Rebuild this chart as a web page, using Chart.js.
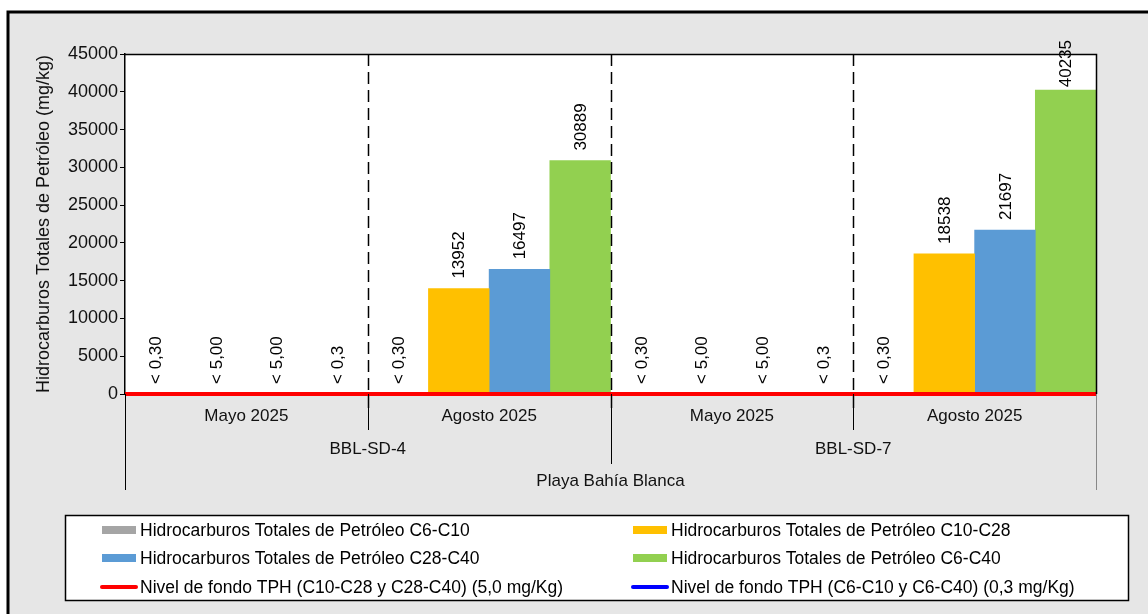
<!DOCTYPE html>
<html>
<head>
<meta charset="utf-8">
<script src="https://cdn.jsdelivr.net/npm/chart.js@4.4.1/dist/chart.umd.min.js"></script>
<style>
  html, body { margin: 0; padding: 0; background: #fff; }
  canvas { display: block; }
</style>
</head>
<body>
<canvas id="grafico" width="1148" height="614"></canvas>
<script>
// datos
const meses = ['Mayo 2025', 'Agosto 2025', 'Mayo 2025', 'Agosto 2025'];
const estaciones = ['BBL-SD-4', 'BBL-SD-7'];
const sitio = 'Playa Bahía Blanca';

const tphC6C10 = [0.3, 0.3, 0.3, 0.3];
const tphC10C28 = [5, 13952, 5, 18538];
const tphC28C40 = [5, 16497, 5, 21697];
const tphC6C40 = [0.3, 30889, 0.3, 40235];

const etqC6C10 = ['< 0,30', '< 0,30', '< 0,30', '< 0,30'];
const etqC10C28 = ['< 5,00', '13952', '< 5,00', '18538'];
const etqC28C40 = ['< 5,00', '16497', '< 5,00', '21697'];
const etqC6C40 = ['< 0,3', '30889', '< 0,3', '40235'];

const fondoC10C40 = 5.0;
const fondoC6 = 0.3;

const yMax = 45000;
const yPaso = 5000;

const FUENTE = '"Liberation Sans", Arial, sans-serif';
Chart.defaults.font.family = FUENTE;
Chart.defaults.color = '#000';

// un solo eje x lineal: categoria j en x = j (asi las barras no se parten entre ejes)
const enX = arr => arr.map((v, j) => ({ x: j, y: v }));
// linea horizontal que cubre todo el ancho de las categorias
const lineaFondo = v => [{ x: -0.5, y: v }, { x: meses.length - 0.5, y: v }];

const etiquetas = [etqC6C10, etqC10C28, etqC28C40, etqC6C40];

const decoPlugin = {
  id: 'deco',
  beforeDraw(chart) {
    const { ctx, chartArea: a } = chart;
    ctx.save();
    ctx.fillStyle = '#fff';
    ctx.fillRect(0, 0, chart.width, chart.height);
    ctx.fillStyle = '#e6e6e6';
    ctx.fillRect(8, 12, chart.width, chart.height);
    ctx.strokeStyle = '#000';
    ctx.lineWidth = 3;
    ctx.strokeRect(8, 12, chart.width + 20, chart.height + 20);
    ctx.fillStyle = '#fff';
    ctx.fillRect(a.left, a.top, a.right - a.left, a.bottom - a.top);
    ctx.restore();
  },
  afterDatasetsDraw(chart) {
    const { ctx, chartArea: a } = chart;
    const x = chart.scales.x;
    const n = meses.length;
    const borde = j => x.getPixelForValue(j + 0.5);

    ctx.save();
    // separadores punteados
    ctx.strokeStyle = '#000';
    ctx.lineWidth = 1.5;
    ctx.setLineDash([12, 6]);
    for (let j = 0; j < n - 1; j++) {
      const px = Math.round(borde(j)) + 0.5;
      ctx.beginPath();
      ctx.moveTo(px, a.top);
      ctx.lineTo(px, a.bottom + 20);
      ctx.stroke();
    }
    ctx.setLineDash([]);

    // marco superior y derecho
    ctx.beginPath();
    ctx.moveTo(a.left, a.top + 0.5);
    ctx.lineTo(a.right + 0.5, a.top + 0.5);
    ctx.lineTo(a.right + 0.5, a.bottom);
    ctx.stroke();

    // etiquetas de las barras (sin salirse mucho por arriba)
    ctx.font = '17px ' + FUENTE;
    ctx.fillStyle = '#000';
    ctx.textAlign = 'left';
    ctx.textBaseline = 'middle';
    for (let i = 0; i < etiquetas.length; i++) {
      const meta = chart.getDatasetMeta(i);
      meta.data.forEach((el, j) => {
        const txt = etiquetas[i][j];
        const w = ctx.measureText(txt).width;
        const y0 = Math.max(el.y - 10, a.top - 14 + w);
        ctx.save();
        ctx.translate(el.x + 1, y0);
        ctx.rotate(-Math.PI / 2);
        ctx.fillText(txt, 0, 0);
        ctx.restore();
      });
    }

    // eje x multinivel
    ctx.lineWidth = 1;
    const trazo = (px, y2, color) => {
      ctx.strokeStyle = color;
      ctx.beginPath();
      ctx.moveTo(Math.round(px) + 0.5, a.bottom);
      ctx.lineTo(Math.round(px) + 0.5, y2);
      ctx.stroke();
    };
    trazo(a.left, a.bottom + 96, '#000');
    trazo(a.right, a.bottom + 96, '#888');
    for (let j = 0; j < n - 1; j++) {
      trazo(borde(j), (j + 1) % 2 === 0 ? a.bottom + 70 : a.bottom + 36, '#000');
    }
    ctx.textAlign = 'center';
    ctx.fillStyle = '#111';
    meses.forEach((m, j) => ctx.fillText(m, x.getPixelForValue(j), a.bottom + 22));
    const porEst = n / estaciones.length;
    estaciones.forEach((e, k) => {
      const x0 = x.getPixelForValue(k * porEst - 0.5);
      const x1 = x.getPixelForValue((k + 1) * porEst - 0.5);
      ctx.fillText(e, (x0 + x1) / 2, a.bottom + 55);
    });
    ctx.fillText(sitio, (a.left + a.right) / 2, a.bottom + 87);

    // leyenda
    const lx = 65, ly = 515, lw = 1128 - 65, lh = 600 - 515;
    ctx.fillStyle = '#fff';
    ctx.fillRect(lx, ly, lw, lh);
    ctx.strokeStyle = '#000';
    ctx.lineWidth = 1.5;
    ctx.strokeRect(lx + 0.5, ly + 0.5, lw, lh);
    const colX = [102, 633];
    const filaY = [530, 558, 587];
    ctx.font = '17.5px ' + FUENTE;
    ctx.textAlign = 'left';
    chart.data.datasets.forEach((ds, k) => {
      const cx = colX[k % 2], cy = filaY[Math.floor(k / 2)];
      if (ds.type === 'line') {
        ctx.strokeStyle = ds.borderColor;
        ctx.lineWidth = 4;
        ctx.lineCap = 'round';
        ctx.beginPath();
        ctx.moveTo(cx, cy);
        ctx.lineTo(cx + 34, cy);
        ctx.stroke();
      } else {
        ctx.fillStyle = ds.backgroundColor;
        ctx.fillRect(cx, cy - 4, 34, 8);
      }
      ctx.fillStyle = '#000';
      ctx.fillText(ds.label, cx + 38, cy + 1);
    });
    ctx.restore();
  }
};

new Chart(document.getElementById('grafico'), {
  data: {
    datasets: [
      { type: 'bar', label: 'Hidrocarburos Totales de Petróleo C6-C10', data: enX(tphC6C10), backgroundColor: '#A5A5A5', order: 2 },
      { type: 'bar', label: 'Hidrocarburos Totales de Petróleo C10-C28', data: enX(tphC10C28), backgroundColor: '#FFC000', order: 2 },
      { type: 'bar', label: 'Hidrocarburos Totales de Petróleo C28-C40', data: enX(tphC28C40), backgroundColor: '#5B9BD5', order: 2 },
      { type: 'bar', label: 'Hidrocarburos Totales de Petróleo C6-C40', data: enX(tphC6C40), backgroundColor: '#92D050', order: 2 },
      { type: 'line', label: 'Nivel de fondo TPH (C10-C28 y C28-C40) (5,0 mg/Kg)', data: lineaFondo(fondoC10C40),
        borderColor: '#FF0000', borderWidth: 4, pointRadius: 0, clip: false, order: 0 },
      { type: 'line', label: 'Nivel de fondo TPH (C6-C10 y C6-C40) (0,3 mg/Kg)', data: lineaFondo(fondoC6),
        borderColor: '#0000FF', borderWidth: 4, pointRadius: 0, clip: false, order: 1 },
    ]
  },
  options: {
    responsive: false,
    animation: false,
    layout: { padding: { top: 54, right: 52, bottom: 220, left: 31 } },
    datasets: { bar: { barPercentage: 1, categoryPercentage: 1 } },
    plugins: { legend: { display: false }, tooltip: { enabled: false } },
    scales: {
      x: {
        type: 'linear',
        min: -0.5,
        max: meses.length - 0.5,
        offset: false,
        grid: { display: false },
        border: { display: false },
        ticks: { display: false, stepSize: 1 },
        afterFit: s => { s.height = 0; }
      },
      y: {
        min: 0,
        max: yMax,
        ticks: { stepSize: yPaso, padding: 2, color: '#111', font: { size: 18 }, callback: v => String(v) },
        grid: { drawOnChartArea: false, tickLength: 5, color: '#000' },
        border: { color: '#000', width: 1.5 },
        title: {
          display: true,
          text: 'Hidrocarburos Totales de Petróleo (mg/kg)',
          color: '#111',
          font: { size: 18 },
          padding: { top: 2, bottom: 2 }
        },
        afterFit: s => { s.width = 94; }
      }
    }
  },
  plugins: [decoPlugin]
});
</script>
</body>
</html>
